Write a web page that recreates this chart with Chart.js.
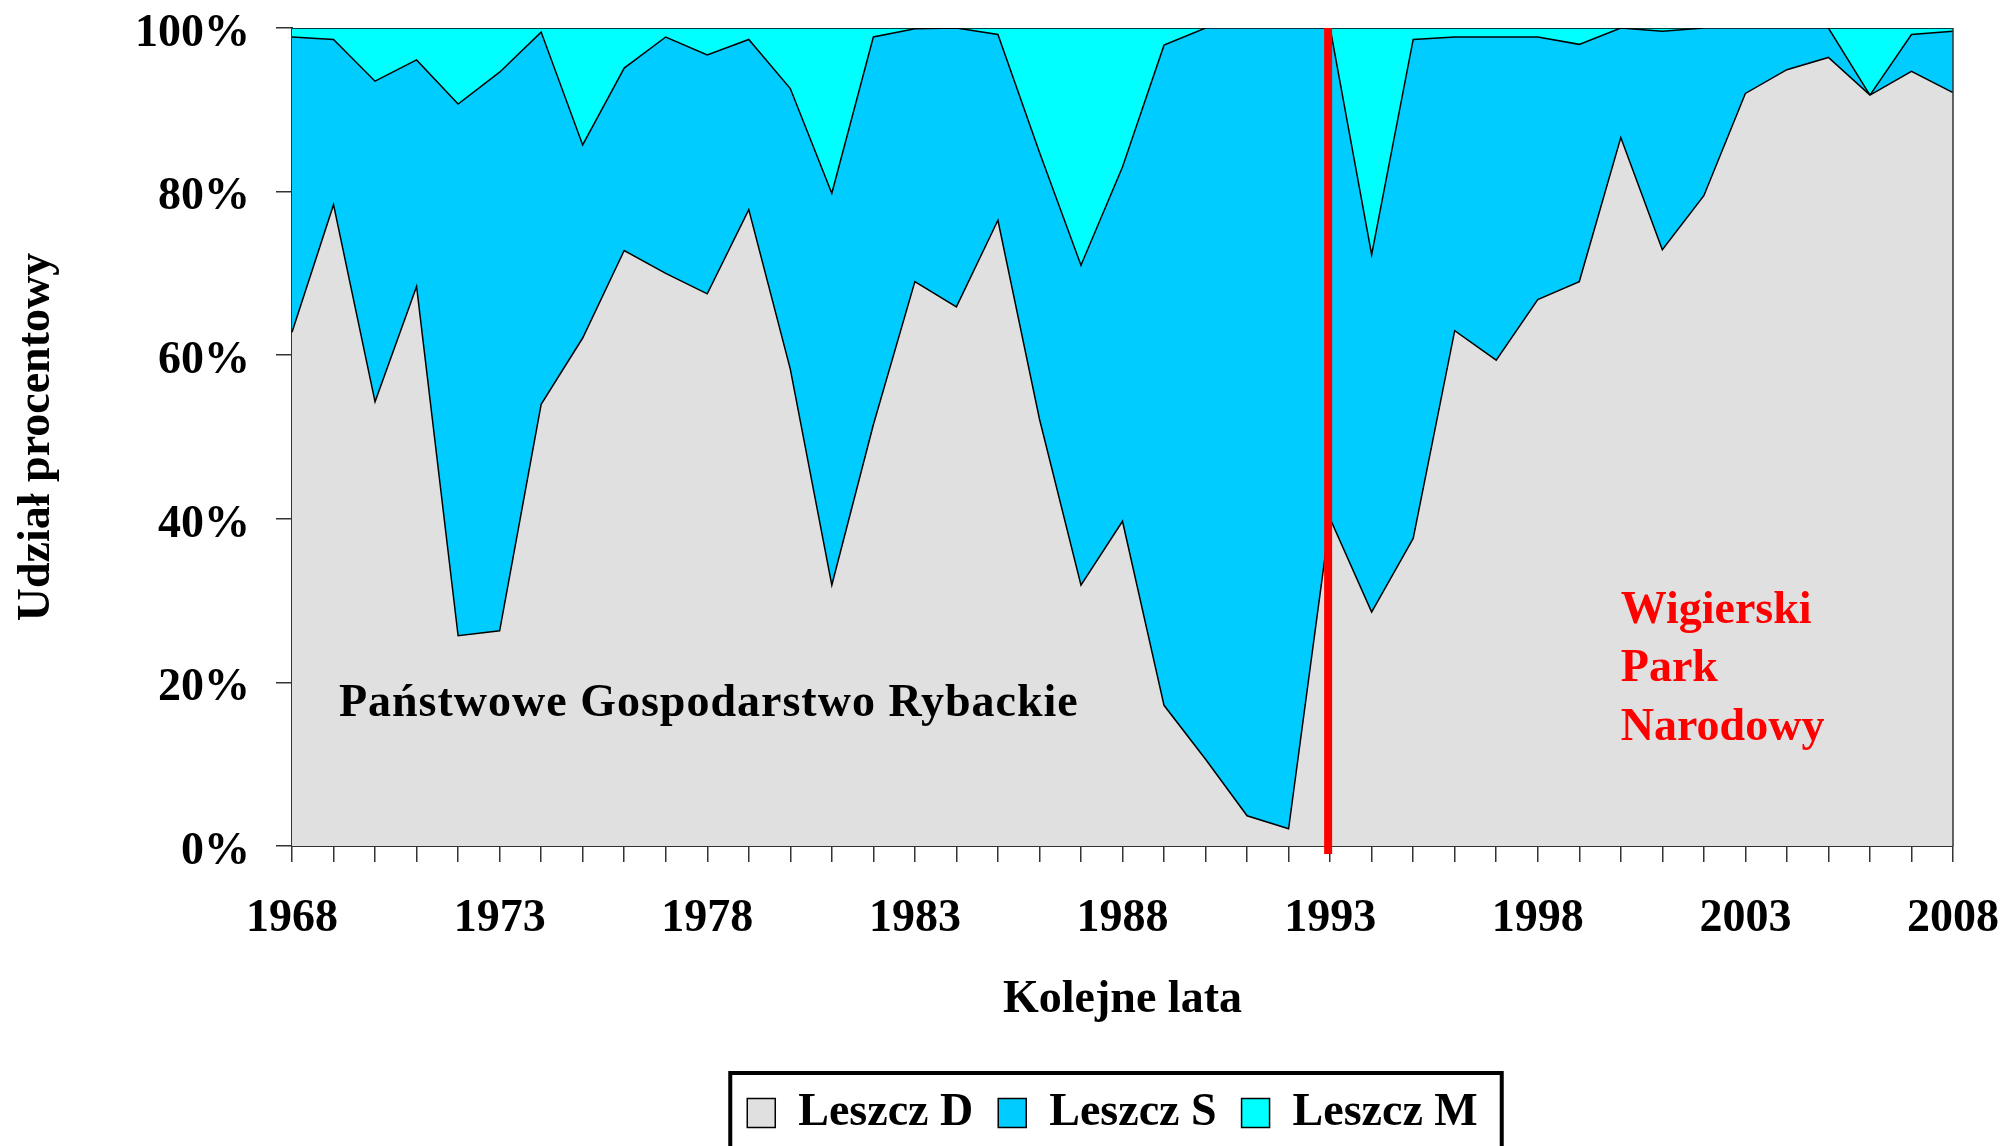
<!DOCTYPE html>
<html>
<head>
<meta charset="utf-8">
<script src="https://cdn.jsdelivr.net/npm/chart.js@4"></script>
<style>
  body { margin: 0; background: #fff; }
  #wrap { width: 2006px; height: 1146px; }
</style>
</head>
<body>
<div id="wrap"><canvas id="chart" width="2006" height="1146"></canvas></div>
<script>
// lata 1968-2008
const years = [];
for (let y = 1968; y <= 2008; y++) years.push(String(y));

// udział procentowy
const leszczD = [62.8, 78.4, 54.3, 68.4, 25.7, 26.3, 54.0, 62.1, 72.8, 70.0, 67.5, 77.8, 58.3, 31.9,
	51.5, 69.0, 65.9, 76.5, 52.2, 31.9, 39.7, 17.2, 10.6, 3.7, 2.1, 40.0, 28.6, 37.6, 63.0, 59.4,
	66.8, 69.0, 86.6, 72.9, 79.5, 92.0, 94.9, 96.4, 91.8, 94.7, 92.1];
const leszczS = [36.1, 20.2, 39.2, 27.7, 65.0, 68.3, 45.5, 23.6, 22.3, 28.9, 29.2, 20.8, 34.3, 47.9,
	47.4, 30.9, 34.1, 22.7, 32.6, 39.1, 43.3, 80.7, 89.4, 96.3, 97.9, 60.0, 43.7, 61.0, 35.9, 39.5,
	32.1, 29.0, 13.4, 26.7, 20.5, 8.0, 5.1, 3.6, 0, 4.5, 7.5];
const leszczM = [1.1, 1.4, 6.5, 3.9, 9.3, 5.4, 0.5, 14.3, 4.9, 1.1, 3.3, 1.4, 7.4, 20.2,
	1.1, 0.1, 0, 0.8, 15.2, 29.0, 17.0, 2.1, 0, 0, 0, 0, 27.7, 1.4, 1.1, 1.1,
	1.1, 2.0, 0, 0.4, 0, 0, 0, 0, 8.2, 0.8, 0.4];

const yTicks = [0, 20, 40, 60, 80, 100];
const splitYear = "1993";

Chart.defaults.font = {family: "'Liberation Serif', 'Times New Roman', serif", size: 46, weight: "bold"};
Chart.defaults.color = "#000";

// czerwona linia, napisy, ramka legendy
const extras = {
	id: "extras",
	afterLayout(chart) {
		// legenda lekko w lewo
		chart.legend.left -= 10;
		chart.legend.right -= 10;
	},
	afterDatasetsDraw(chart) {
		const {ctx, chartArea, scales: {x, y}} = chart;
		ctx.save();
		// prawa krawędź
		ctx.strokeStyle = "#333";
		ctx.lineWidth = 1.5;
		ctx.beginPath();
		ctx.moveTo(chartArea.right, chartArea.top);
		ctx.lineTo(chartArea.right, chartArea.bottom);
		ctx.stroke();
		// 1993
		let xs = x.getPixelForValue(years.indexOf(splitYear)) - 2;
		ctx.strokeStyle = "#ff0000";
		ctx.lineWidth = 8;
		ctx.beginPath();
		ctx.moveTo(xs, chartArea.top);
		ctx.lineTo(xs, chartArea.bottom + 8);
		ctx.stroke();

		ctx.font = "bold 46px 'Liberation Serif', serif";
		ctx.textBaseline = "alphabetic";
		ctx.textAlign = "left";
		ctx.fillStyle = "#000";
		ctx.letterSpacing = "1px";
		ctx.fillText("Państwowe Gospodarstwo Rybackie", x.getPixelForValue(1.13), y.getPixelForValue(15.9));
		ctx.letterSpacing = "0px";
		ctx.fillStyle = "#ff0000";
		let wx = x.getPixelForValue(years.indexOf("2000"));
		ctx.fillText("Wigierski", wx, y.getPixelForValue(27.3));
		ctx.fillText("Park", wx, y.getPixelForValue(20.2));
		ctx.fillText("Narodowy", wx, y.getPixelForValue(13.0));
		ctx.restore();
	},
	afterDraw(chart) {
		const lg = chart.legend;
		const hb = lg.legendHitBoxes;
		if (!hb || !hb.length) return;
		const {ctx} = chart;
		let left = hb[0].left - 17;
		let right = hb[hb.length - 1].left + hb[hb.length - 1].width + 24;
		ctx.save();
		ctx.strokeStyle = "#000";
		ctx.lineWidth = 4;
		ctx.strokeRect(left, lg.top + 8, right - left, chart.height);
		ctx.restore();
	}
};

const ctx = document.getElementById("chart").getContext("2d");
const myChart = new Chart(ctx, {
	type: "line",
	data: {
		labels: years,
		datasets: [{
			label: "Leszcz D",
			data: leszczD,
			backgroundColor: "#e0e0e0",
			borderColor: "#000",
			borderWidth: 1.5,
			fill: "origin"
		}, {
			label: "Leszcz S",
			data: leszczS,
			backgroundColor: "#00ccff",
			borderColor: "#000",
			borderWidth: 1.5,
			fill: "-1"
		}, {
			label: "Leszcz M",
			data: leszczM,
			backgroundColor: "#00ffff",
			borderColor: "#000",
			borderWidth: 1.5,
			fill: "-1"
		}]
	},
	options: {
		responsive: false,
		animation: false,
		elements: {point: {radius: 0}, line: {tension: 0}},
		layout: {padding: {left: 0, right: 53, top: 28, bottom: 0}},
		plugins: {
			legend: {
				position: "bottom",
				fullSize: false,
				labels: {boxWidth: 28, boxHeight: 29, padding: 25, font: {size: 46, weight: "bold"}}
			},
			tooltip: {enabled: false}
		},
		scales: {
			x: {
				offset: false,
				grid: {drawOnChartArea: false, tickLength: 16, color: "#333", lineWidth: 1.5},
				border: {display: true, color: "#333", width: 2},
				ticks: {
					autoSkip: false,
					maxRotation: 0,
					padding: 30,
					callback: (v, i) => (i % 5 === 0 ? years[i] : "")
				},
				title: {display: true, text: "Kolejne lata", padding: {top: 0, bottom: 37}},
				afterFit: (scale) => {
					scale.height = 219;
					scale.paddingLeft = 0;
					scale.paddingRight = 0;
				}
			},
			y: {
				stacked: true,
				min: 0,
				max: 100,
				afterBuildTicks: (scale) => { scale.ticks = yTicks.map(v => ({value: v})); },
				grid: {drawOnChartArea: false, tickLength: 16, color: "#333", lineWidth: 1.5},
				border: {display: true, color: "#333", width: 2},
				ticks: {padding: 26, labelOffset: 6, callback: (v) => v + "%"},
				title: {display: true, text: "Udział procentowy", padding: {top: 10, bottom: 0}},
				afterFit: (scale) => {
					scale.width = 292;
					scale.paddingTop = 0;
					scale.paddingBottom = 0;
				}
			}
		}
	},
	plugins: [extras]
});
</script>
</body>
</html>
